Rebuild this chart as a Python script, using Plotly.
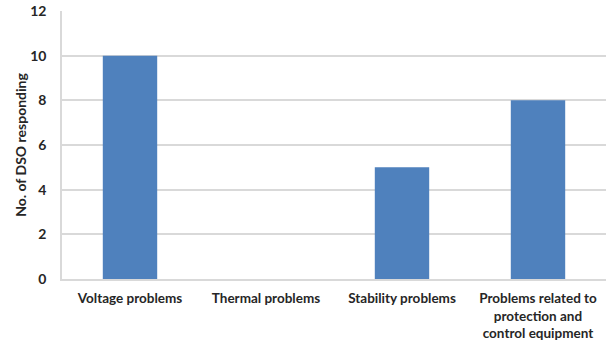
import plotly.graph_objects as go

categories = ["Voltage problems", "Thermal problems", "Stability problems",
              "Problems related to<br>protection and<br>control equipment"]
responses = [10, 0, 5, 8]
y_ticks = [0, 2, 4, 6, 8, 10, 12]

font_family = "Lato, 'Open Sans', sans-serif"
text_color = "#262626"

fig = go.Figure(go.Bar(
    x=categories,
    y=responses,
    marker=dict(color="#4F81BD", line=dict(width=0)),
    width=0.4,
))

fig.update_layout(
    width=613, height=344,
    margin=dict(l=62, r=7, t=11, b=65),
    paper_bgcolor="white",
    plot_bgcolor="white",
    showlegend=False,
    font=dict(family=font_family, color=text_color, size=12),
)

fig.update_xaxes(
    automargin=False,
    showline=True, linecolor="#d9d9d9", linewidth=1.5,
    ticks="", ticklabelstandoff=6,
    tickfont=dict(family=font_family, size=13.5, color=text_color, weight="bold"),
    showgrid=False,
)
fig.update_yaxes(
    automargin=False,
    range=[0, 12], tickvals=y_ticks,
    showline=True, linecolor="#d9d9d9", linewidth=1.5,
    showgrid=True, gridcolor="#d9d9d9", gridwidth=1.5,
    zeroline=False, ticks="", ticklabelstandoff=11,
    tickfont=dict(family=font_family, size=14, color=text_color, weight="bold"),
    title=dict(text="No. of DSO responding", standoff=0,
               font=dict(family=font_family, size=14, color=text_color, weight="bold")),
)

fig.write_html("out.html")
